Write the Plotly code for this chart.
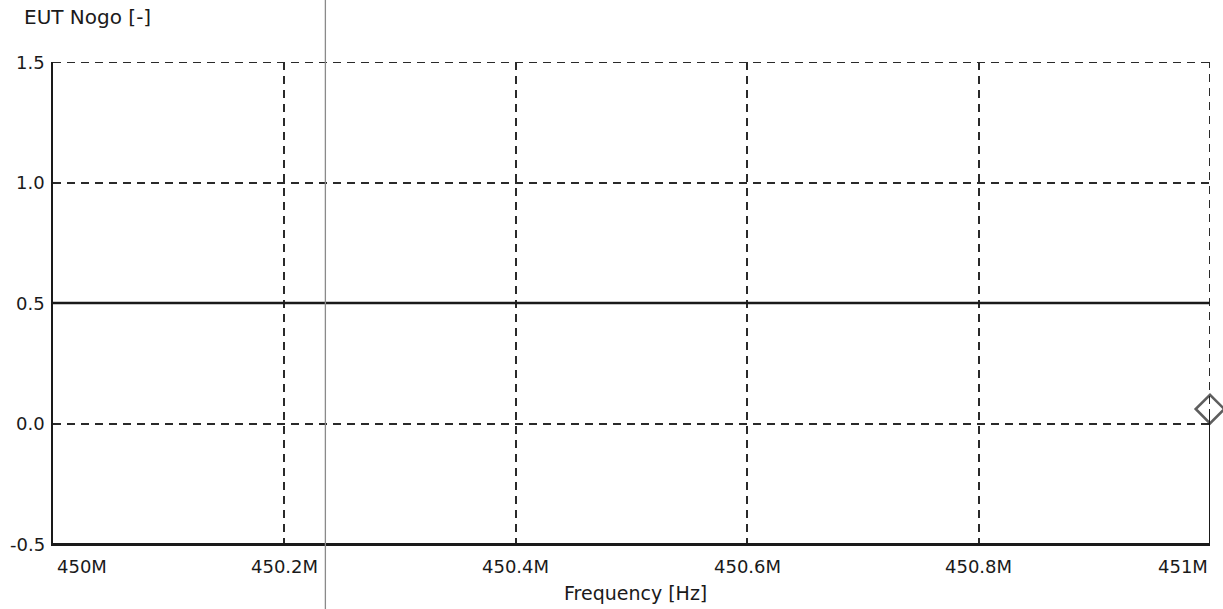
import plotly.graph_objects as go

# ---- data (frequency in MHz, values in [-]) ----
freq_mhz = [450.0, 450.003, 451.0, 451.0]
eut_nogo = [-0.5, -0.5, -0.5, 0.06]
limit_freq = [450.0, 451.0]
limit_val = [0.5, 0.5]

x_tick_vals = [450.0, 450.2, 450.4, 450.6, 450.8, 451.0]
x_tick_text = ["450M", "450.2M", "450.4M", "450.6M", "450.8M", "451M"]
y_tick_vals = [-0.5, 0.0, 0.5, 1.0, 1.5]
y_tick_text = ["-0.5", "0.0", "0.5", "1.0", "1.5"]

FONT = "DejaVu Sans"
INK = "#1a1a1a"
GRID = "#2a2a2a"
DASH = "8px,6px"
GW = 1.7

fig = go.Figure()

fig.add_trace(go.Scatter(
    x=limit_freq, y=limit_val, mode="lines",
    line=dict(color=INK, width=2.6), showlegend=False, hoverinfo="skip"))

fig.add_trace(go.Scatter(
    x=freq_mhz, y=eut_nogo, mode="lines+markers",
    line=dict(color=INK, width=2),
    marker=dict(symbol="diamond-open", size=[0, 0, 0, 22],
                color=INK, line=dict(width=2.6, color=INK)),
    showlegend=False, cliponaxis=False))

fig.update_layout(
    width=1223, height=609,
    margin=dict(l=52.5, r=13, t=62, b=65, autoexpand=False),
    paper_bgcolor="white", plot_bgcolor="white",
    font=dict(family=FONT, color=INK, size=17),
    xaxis=dict(range=[450.0, 451.0], tickvals=x_tick_vals, showticklabels=False,
               showgrid=True, gridcolor=GRID, gridwidth=GW, griddash=DASH,
               showline=True, linecolor=INK, linewidth=2.4, zeroline=False, ticks=""),
    yaxis=dict(range=[-0.5, 1.5], tickvals=y_tick_vals, showticklabels=False,
               showgrid=True, gridcolor=GRID, gridwidth=GW, griddash=DASH,
               showline=True, linecolor=INK, linewidth=2.4, zeroline=False, ticks=""),
)

# edge grid lines (top at 1.5 and right at 451M) that plotly omits at range ends
fig.add_shape(type="line", xref="paper", yref="y", x0=0, x1=1,
              y0=y_tick_vals[-1], y1=y_tick_vals[-1],
              line=dict(color=GRID, width=2, dash=DASH), layer="above")
fig.add_shape(type="line", xref="x", yref="paper", x0=x_tick_vals[-1], x1=x_tick_vals[-1],
              y0=0, y1=1, line=dict(color=GRID, width=2, dash=DASH), layer="below")

ann = []
for i, (v, t) in enumerate(zip(x_tick_vals, x_tick_text)):
    if i == 0:
        anchor, shift = "left", 2
    elif i == len(x_tick_vals) - 1:
        anchor, shift = "right", 0
    else:
        anchor, shift = "center", 0
    ann.append(dict(x=v, xref="x", y=0, yref="paper", text=t, showarrow=False,
                    xanchor=anchor, yanchor="middle", yshift=-22, xshift=shift,
                    font=dict(family=FONT, size=18, color=INK)))
for v, t in zip(y_tick_vals, y_tick_text):
    ann.append(dict(x=0, xref="paper", y=v, yref="y", text=t, showarrow=False,
                    xanchor="right", yanchor="middle", xshift=-6,
                    font=dict(family=FONT, size=18, color=INK)))
ann.append(dict(x=0.5, xref="paper", y=0, yref="paper", text="Frequency [Hz]",
                showarrow=False, xanchor="center", yanchor="middle", yshift=-49, xshift=4,
                font=dict(family=FONT, size=19, color=INK)))
ann.append(dict(x=0, xref="paper", y=1, yref="paper", text="EUT Nogo [-]",
                showarrow=False, xanchor="left", yanchor="middle", xshift=-31, yshift=45,
                font=dict(family=FONT, size=20, color=INK)))
fig.update_layout(annotations=ann)

# thin grey cursor line crossing the whole page
fig.add_shape(type="line", xref="paper", yref="paper",
              x0=(325 - 52.5) / 1157.5, x1=(325 - 52.5) / 1157.5,
              y0=-65 / 482, y1=1 + 62 / 482,
              line=dict(color="#8a8a8a", width=1.3), layer="above")

fig.write_html("out.html", config={"displayModeBar": False},
               post_script="document.body.style.margin='0';document.body.style.overflow='hidden';")
